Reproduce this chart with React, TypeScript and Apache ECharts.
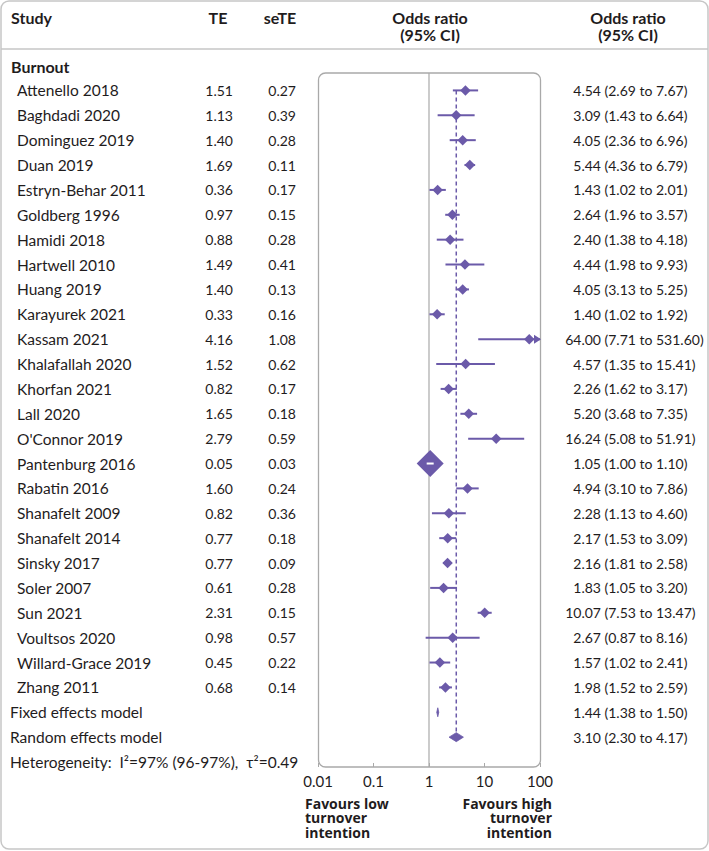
import React, { useEffect, useRef } from "react";
import * as echarts from "echarts";

// ---------- data ----------
const studies = [
  "Attenello 2018", "Baghdadi 2020", "Dominguez 2019", "Duan 2019", "Estryn-Behar 2011",
  "Goldberg 1996", "Hamidi 2018", "Hartwell 2010", "Huang 2019", "Karayurek 2021",
  "Kassam 2021", "Khalafallah 2020", "Khorfan 2021", "Lall 2020", "O'Connor 2019",
  "Pantenburg 2016", "Rabatin 2016", "Shanafelt 2009", "Shanafelt 2014", "Sinsky 2017",
  "Soler 2007", "Sun 2021", "Voultsos 2020", "Willard-Grace 2019", "Zhang 2011",
];
const teValues = [1.51, 1.13, 1.40, 1.69, 0.36, 0.97, 0.88, 1.49, 1.40, 0.33, 4.16, 1.52, 0.82, 1.65, 2.79, 0.05, 1.60, 0.82, 0.77, 0.77, 0.61, 2.31, 0.98, 0.45, 0.68];
const seTeValues = [0.27, 0.39, 0.28, 0.11, 0.17, 0.15, 0.28, 0.41, 0.13, 0.16, 1.08, 0.62, 0.17, 0.18, 0.59, 0.03, 0.24, 0.36, 0.18, 0.09, 0.28, 0.15, 0.57, 0.22, 0.14];
const oddsRatios = [4.54, 3.09, 4.05, 5.44, 1.43, 2.64, 2.40, 4.44, 4.05, 1.40, 64.00, 4.57, 2.26, 5.20, 16.24, 1.05, 4.94, 2.28, 2.17, 2.16, 1.83, 10.07, 2.67, 1.57, 1.98];
const ciLower = [2.69, 1.43, 2.36, 4.36, 1.02, 1.96, 1.38, 1.98, 3.13, 1.02, 7.71, 1.35, 1.62, 3.68, 5.08, 1.00, 3.10, 1.13, 1.53, 1.81, 1.05, 7.53, 0.87, 1.02, 1.52];
const ciUpper = [7.67, 6.64, 6.96, 6.79, 2.01, 3.57, 4.18, 9.93, 5.25, 1.92, 531.60, 15.41, 3.17, 7.35, 51.91, 1.10, 7.86, 4.60, 3.09, 2.58, 3.20, 13.47, 8.16, 2.41, 2.59];

const summaryLabels = ["Fixed effects model", "Random effects model"];
const summaryOR = [1.44, 3.10];
const summaryLower = [1.38, 2.30];
const summaryUpper = [1.50, 4.17];
const heterogeneityText = "Heterogeneity:  I\u00B2=97% (96-97%),  \u03C4\u00B2=0.49";
const subgroupTitle = "Burnout";
const xTickValues = [0.01, 0.1, 1, 10, 100];
const favoursLow = ["Favours low", "turnover", "intention"];
const favoursHigh = ["Favours high", "turnover", "intention"];

// ---------- layout / style ----------
const W = 709;
const H = 851;
const GRID_LEFT = 318;
const GRID_TOP = 73;
const GRID_W = 222;
const GRID_H = 694;
const Y_MIN = -0.7;
const Y_MAX = 27.2;
const PURPLE = "#6b5aa9";
const TEXT = "#1f1c1d";
const LINE_GRAY = "#a9a9a9";
const FRAME_GRAY = "#c6c6c6";
const FONT = "Lato";
const FOOT_FONT = "Open Sans";

const fmt = (v: number) => v.toFixed(2);

type Row = { name: string; indent: boolean; te: string; se: string; est: string; ci: string };
const tableRows: Row[] = [
  ...studies.map((s, i) => ({
    name: s,
    indent: true,
    te: fmt(teValues[i]),
    se: fmt(seTeValues[i]),
    est: fmt(oddsRatios[i]),
    ci: `(${fmt(ciLower[i])} to ${fmt(ciUpper[i])})`,
  })),
  ...summaryLabels.map((s, i) => ({
    name: s,
    indent: false,
    te: "",
    se: "",
    est: fmt(summaryOR[i]),
    ci: `(${fmt(summaryLower[i])} to ${fmt(summaryUpper[i])})`,
  })),
  { name: heterogeneityText, indent: false, te: "", se: "", est: "", ci: "" },
];

const txt = (
  text: string,
  x: number,
  y: number,
  align: string,
  bold = false,
  size = 14,
  lineHeight?: number,
  family = FONT
) => ({
  type: "text",
  style: {
    text,
    x,
    y,
    align,
    verticalAlign: "middle",
    fontFamily: family,
    fontSize: size,
    fontWeight: bold ? "bold" : "normal",
    fill: TEXT,
    ...(lineHeight ? { lineHeight } : {}),
  },
});

export default function App() {
  const ref = useRef<HTMLDivElement>(null);

  useEffect(() => {
    if (!ref.current) return;
    const chart = echarts.init(ref.current, null, { renderer: "svg" });

    const X_MIN = xTickValues[0];
    const X_MAX = xTickValues[xTickValues.length - 1];

    const studyData = studies.map((_, i) => [oddsRatios[i], ciLower[i], ciUpper[i], i, seTeValues[i]]);
    const summaryData = summaryLabels.map((_, i) => [summaryOR[i], summaryLower[i], summaryUpper[i], studies.length + i]);
    const tableData = tableRows.map((_, i) => [1, i]);

    const footer: any[] = [];
    favoursLow.forEach((t, k) =>
      footer.push({ ...txt(t, 305, 803 + k * 14.5, "left", true, 14, 14.5, FOOT_FONT), z: 1 })
    );
    favoursHigh.forEach((t, k) =>
      footer.push({ ...txt(t, 552, 803 + k * 14.5, "right", true, 14, 14.5, FOOT_FONT), z: 1 })
    );

    const option: any = {
      animation: false,
      backgroundColor: "#ffffff",
      grid: { left: GRID_LEFT, top: GRID_TOP, width: GRID_W, height: GRID_H, containLabel: false },
      xAxis: {
        type: "log",
        logBase: 10,
        min: X_MIN,
        max: X_MAX,
        position: "bottom",
        axisLine: { show: false, onZero: false },
        axisTick: { show: true, inside: true, length: 4, lineStyle: { color: LINE_GRAY, width: 1 } },
        splitLine: { show: false },
        axisLabel: {
          fontFamily: FONT,
          fontSize: 15,
          color: TEXT,
          margin: 6,
          formatter: (v: number) => String(Number(Number(v).toPrecision(2))),
        },
      },
      yAxis: {
        type: "value",
        min: Y_MIN,
        max: Y_MAX,
        inverse: true,
        show: false,
      },
      graphic: [
        {
          type: "rect",
          shape: { x: 1, y: 1, width: W - 2, height: H - 3, r: 8 },
          style: { fill: "none", stroke: FRAME_GRAY, lineWidth: 1.5 },
          z: 0,
        },
        {
          type: "line",
          shape: { x1: 1, y1: 49, x2: W - 1, y2: 49 },
          style: { stroke: FRAME_GRAY, lineWidth: 1.5 },
          z: 0,
        },
        {
          type: "rect",
          shape: { x: GRID_LEFT + 0.5, y: GRID_TOP, width: GRID_W, height: GRID_H, r: 7 },
          style: { fill: "none", stroke: LINE_GRAY, lineWidth: 1.3 },
          z: 0,
        },
        { ...txt("Study", 11, 17, "left", true, 16), z: 1 },
        { ...txt("TE", 218, 17, "center", true, 16), z: 1 },
        { ...txt("seTE", 280, 17, "center", true, 16), z: 1 },
        { ...txt("Odds ratio", 430, 17, "center", true, 16, 17), z: 1 },
        { ...txt("(95% CI)", 430, 34, "center", true, 16, 17), z: 1 },
        { ...txt("Odds ratio", 628, 17, "center", true, 16, 17), z: 1 },
        { ...txt("(95% CI)", 628, 34, "center", true, 16, 17), z: 1 },
        { ...txt(subgroupTitle, 11, 66, "left", true, 16), z: 1 },
        ...footer,
      ],
      series: [
        // reference lines
        {
          type: "custom",
          name: "reference",
          clip: false,
          z: 2,
          data: [[summaryOR[1], 0, studies.length + 1]],
          encode: { x: 0, y: 1 },
          renderItem: (params: any, api: any) => {
            const cs = params.coordSys;
            const x1 = api.coord([1, 0])[0];
            const xr = api.coord([api.value(0), 0])[0];
            const yTop = api.coord([1, api.value(1)])[1];
            const yBot = api.coord([1, api.value(2)])[1];
            return {
              type: "group",
              children: [
                {
                  type: "line",
                  shape: { x1: x1, y1: cs.y, x2: x1, y2: cs.y + cs.height },
                  style: { stroke: LINE_GRAY, lineWidth: 1.2 },
                },
                {
                  type: "line",
                  shape: { x1: xr, y1: yTop, x2: xr, y2: yBot },
                  style: { stroke: PURPLE, lineWidth: 1.5, lineDash: [4, 3] },
                },
              ],
            };
          },
        },
        // studies
        {
          type: "custom",
          name: "studies",
          clip: false,
          z: 3,
          data: studyData,
          encode: { x: 0, y: 3 },
          renderItem: (params: any, api: any) => {
            const est = api.value(0);
            const lo = api.value(1);
            const hi = api.value(2);
            const row = api.value(3);
            const se = api.value(4);
            const [xc, y] = api.coord([est, row]);
            const xl = api.coord([Math.max(lo, X_MIN), row])[0];
            const xu = api.coord([Math.min(hi, X_MAX), row])[0];
            const size = Math.max(10.5, 0.81 / se);
            const h = size / 2;
            const children: any[] = [];
            children.push({
              type: "line",
              shape: { x1: xl, y1: y, x2: xu, y2: y },
              style: { stroke: PURPLE, lineWidth: 2 },
            });
            if (hi > X_MAX) {
              children.push({
                type: "polygon",
                shape: { points: [[xu + 1, y], [xu - 6, y - 4.5], [xu - 6, y + 4.5]] },
                style: { fill: PURPLE },
              });
            }
            children.push({
              type: "polygon",
              shape: { points: [[xc - h, y], [xc, y - h], [xc + h, y], [xc, y + h]] },
              style: { fill: PURPLE },
            });
            if (xu - xl < size * 0.6) {
              children.push({
                type: "line",
                shape: { x1: Math.min(xl, xc - 3.5), y1: y, x2: Math.max(xu, xc + 3.5), y2: y },
                style: { stroke: "#ffffff", lineWidth: 2 },
              });
            }
            return { type: "group", children };
          },
        },
        // summary diamonds
        {
          type: "custom",
          name: "summary",
          clip: false,
          z: 3,
          data: summaryData,
          encode: { x: 0, y: 3 },
          renderItem: (params: any, api: any) => {
            const row = api.value(3);
            const [xc, y] = api.coord([api.value(0), row]);
            const xl = api.coord([api.value(1), row])[0];
            const xu = api.coord([api.value(2), row])[0];
            const h = 4.5;
            return {
              type: "polygon",
              shape: { points: [[xl, y], [xc, y - h], [xu, y], [xc, y + h]] },
              style: { fill: PURPLE, stroke: PURPLE, lineWidth: 0.8 },
            };
          },
        },
        // table text
        {
          type: "custom",
          name: "table",
          clip: false,
          z: 4,
          data: tableData,
          encode: { x: 0, y: 1 },
          renderItem: (params: any, api: any) => {
            const i = params.dataIndex;
            const r = tableRows[i];
            const y = api.coord([1, api.value(1)])[1];
            const children: any[] = [txt(r.name, r.indent ? 17 : 10, y, "left", false, 15.5)];
            if (r.te) children.push(txt(r.te, 233, y, "right"));
            if (r.se) children.push(txt(r.se, 296, y, "right"));
            if (r.est) children.push(txt(r.est, 601, y, "right"));
            if (r.ci) children.push(txt(r.ci, 604.5, y, "left"));
            return { type: "group", children };
          },
        },
      ],
    };

    chart.setOption(option);
    return () => chart.dispose();
  }, []);

  return (
    <div
      ref={ref}
      style={{ position: "absolute", left: 0, top: 0, width: W, height: H, background: "#fff" }}
    />
  );
}
